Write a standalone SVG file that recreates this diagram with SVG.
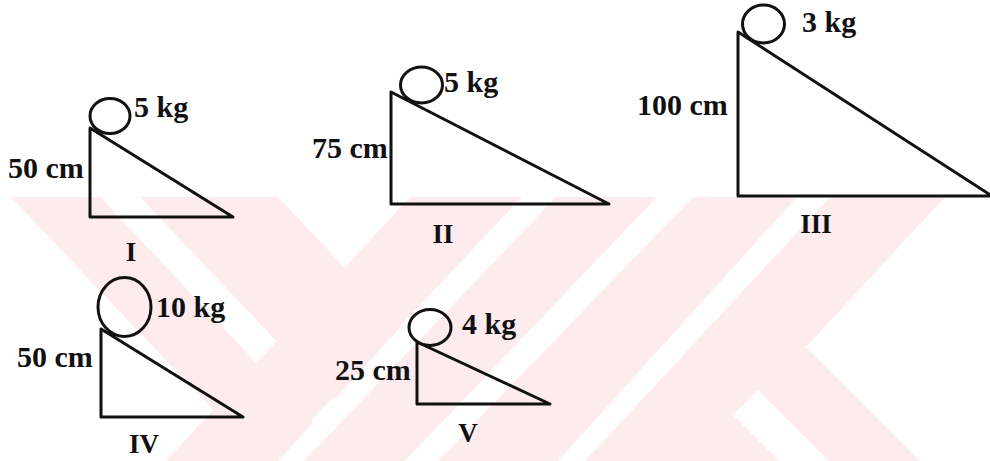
<svg xmlns="http://www.w3.org/2000/svg" width="990" height="461" viewBox="0 0 990 461">
  <defs>
    <style>
      .wm { fill: #fdebee; stroke: none; }
      .ln { fill: none; stroke: #111; stroke-width: 3; stroke-linejoin: round; stroke-linecap: square; }
      .lbl { font-family: "Liberation Serif", "Times New Roman", serif; font-weight: bold; font-size: 30px; fill: #111; }
      .num { font-family: "Liberation Serif", "Times New Roman", serif; font-weight: bold; font-size: 27px; fill: #111; text-anchor: middle; }
    </style>
    <clipPath id="wmclip">
      <rect x="0" y="197" width="990" height="264"/>
    </clipPath>
  </defs>
  <rect x="0" y="0" width="990" height="461" fill="#ffffff"/>

  <!-- background watermark -->
  <g id="watermark" clip-path="url(#wmclip)">
    <polygon class="wm" points="11,197 100,197 313,423 270,470"/>
    <polygon class="wm" points="140,197 278,197 401,327 333,401"/>
    <polygon class="wm" points="410,197 522,197 273,461 166,461"/>
    <polygon class="wm" points="556,197 657,197 405,461 304,461"/>
    <polygon class="wm" points="693,197 797,197 558,461 438,461"/>
    <polygon class="wm" points="830,197 945,197 806,347 920,461 585,461"/>
    <polygon points="733,415 758,390 829,461 779,461" fill="#ffffff"/>
  </g>

  <!-- I -->
  <g id="incline-I">
    <ellipse class="ln" cx="110" cy="116" rx="20" ry="17.5"/>
    <polygon class="ln" points="90,128 90,217 233,217"/>
    <text class="lbl" x="134" y="117">5 kg</text>
    <text class="lbl" x="8" y="178">50 cm</text>
    <text class="num" x="131" y="261">I</text>
  </g>

  <!-- II -->
  <g id="incline-II">
    <ellipse class="ln" cx="421.5" cy="85" rx="21" ry="18"/>
    <polygon class="ln" points="391,92 391,204 609,204"/>
    <text class="lbl" x="444" y="92">5 kg</text>
    <text class="lbl" x="312" y="158">75 cm</text>
    <text class="num" x="443" y="243">II</text>
  </g>

  <!-- III -->
  <g id="incline-III">
    <ellipse class="ln" cx="763.5" cy="24" rx="21" ry="19"/>
    <polygon class="ln" points="738,32 738,196 992,196"/>
    <text class="lbl" x="802" y="32">3 kg</text>
    <text class="lbl" x="637" y="115">100 cm</text>
    <text class="num" x="816" y="233">III</text>
  </g>

  <!-- IV -->
  <g id="incline-IV">
    <ellipse class="ln" cx="124.5" cy="307" rx="26.5" ry="29.5"/>
    <polygon class="ln" points="101,329 101,417 243,417"/>
    <text class="lbl" x="156" y="317">10 kg</text>
    <text class="lbl" x="17" y="367">50 cm</text>
    <text class="num" x="144" y="453">IV</text>
  </g>

  <!-- V -->
  <g id="incline-V">
    <ellipse class="ln" cx="430" cy="327.5" rx="21" ry="18"/>
    <polygon class="ln" points="417,342 417,404 550,404"/>
    <text class="lbl" x="462" y="334">4 kg</text>
    <text class="lbl" x="335" y="380">25 cm</text>
    <text class="num" x="468" y="442">V</text>
  </g>
</svg>
